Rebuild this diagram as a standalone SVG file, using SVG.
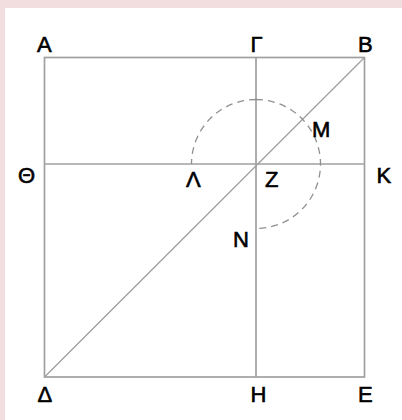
<svg xmlns="http://www.w3.org/2000/svg" width="402" height="420" viewBox="0 0 402 420">
<style>
.ln{stroke:#a0a0a0;stroke-width:1.7;fill:none}
.dg{stroke:#a0a0a0;stroke-width:1.3;fill:none}
.arc{stroke:#909090;stroke-width:1.3;fill:none;stroke-dasharray:7 5}
.lb{font-family:"Liberation Sans",Arial,sans-serif;font-size:22px;fill:#000;stroke:#000;stroke-width:0.6}
</style>
<rect x="0" y="0" width="402" height="420" fill="#f2dede"/>
<rect x="5" y="8" width="397" height="412" fill="#ffffff"/>
<g id="connectors">
<rect class="ln" x="44.5" y="57.5" width="320" height="319.5"/>
<line class="ln" x1="256" y1="57.5" x2="256" y2="377"/>
<line class="ln" x1="44.5" y1="164" x2="364.5" y2="164"/>
<line class="dg" x1="44.5" y1="377" x2="364.5" y2="57.5"/>
<path class="arc" d="M256,99.5 A64.5,64.5 0 0 0 191.5,164"/>
<path class="arc" d="M256,99.5 A64.5,64.5 0 1 1 256,228.5"/>
</g>
<g id="labels">
<text class="lb" x="37" y="51.5">A</text>
<text class="lb" x="250.5" y="51.5">Γ</text>
<text class="lb" x="358" y="51.5">B</text>
<text class="lb" x="18" y="183">Θ</text>
<text class="lb" x="376.5" y="182.5">K</text>
<text class="lb" x="186" y="187">Λ</text>
<text class="lb" x="265" y="186.5">Z</text>
<text class="lb" x="312" y="136.5">M</text>
<text class="lb" x="233" y="246.5">N</text>
<text class="lb" x="37.5" y="401.5">Δ</text>
<text class="lb" x="250.5" y="401.5">H</text>
<text class="lb" x="358" y="401.5">E</text>
</g>
</svg>
